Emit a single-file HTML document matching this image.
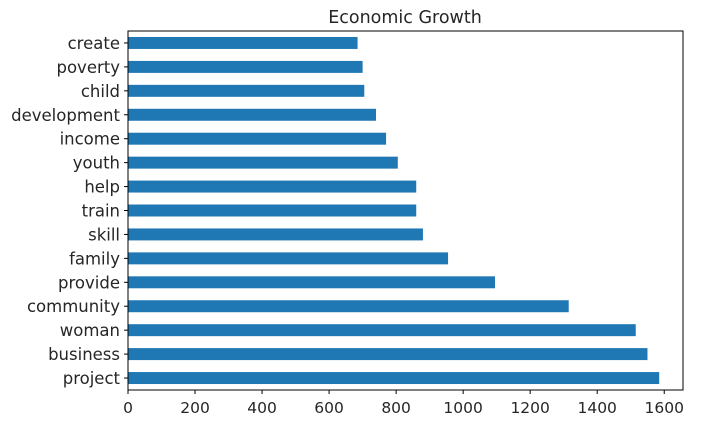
<!DOCTYPE html>
<html><head><meta charset="utf-8"><style>
body{margin:0;background:#fff;}
svg text{font-family:"DejaVu Sans","Liberation Sans",sans-serif;fill:#262626;}
</style></head><body>
<svg id="chart" width="713" height="432" xmlns="http://www.w3.org/2000/svg">
<text x="405" y="23" text-anchor="middle" font-size="17.5">Economic Growth</text>
<g id="bars"></g><g id="axes"></g>
</svg>
<script>
const categories=["create","poverty","child","development","income","youth","help","train","skill","family","provide","community","woman","business","project"];
const values=[685,700,705,740,770,805,860,860,880,955,1095,1315,1515,1550,1585];
const xTicks=[0,200,400,600,800,1000,1200,1400,1600];
const L=128,R=683,T=31,B=390,XMAX=1656;
const NS="http://www.w3.org/2000/svg";
const xs=v=>L+v/XMAX*(R-L);
const step=(B-T)/categories.length;
const ys=i=>T+step*(i+0.5);
const bars=document.getElementById('bars'),axes=document.getElementById('axes');
function mk(t,a,p){const e=document.createElementNS(NS,t);for(const k in a)e.setAttribute(k,a[k]);p.appendChild(e);return e;}
categories.forEach((c,i)=>{
 const r=mk('rect',{x:L,y:ys(i)-step*0.25,width:xs(values[i])-L,height:step*0.5,fill:'#1f77b4'},bars);
 
 
 mk('line',{x1:L-4,x2:L,y1:ys(i),y2:ys(i),stroke:'#000','stroke-width':1},axes);
 const t=mk('text',{x:L-8,y:ys(i)+6,'text-anchor':'end','font-size':'16.5'},axes);
 t.textContent=c;
 
 
});
xTicks.forEach(v=>{
 mk('line',{x1:xs(v),x2:xs(v),y1:B,y2:B+4,stroke:'#000','stroke-width':1},axes);
 const t=mk('text',{x:xs(v),y:B+23,'text-anchor':'middle','font-size':'15.5'},axes);
 t.textContent=v;
 
 
});
const f=mk('rect',{x:L,y:T,width:R-L,height:B-T,fill:'none',stroke:'#000','stroke-width':1},axes);


</script>
</body></html>
